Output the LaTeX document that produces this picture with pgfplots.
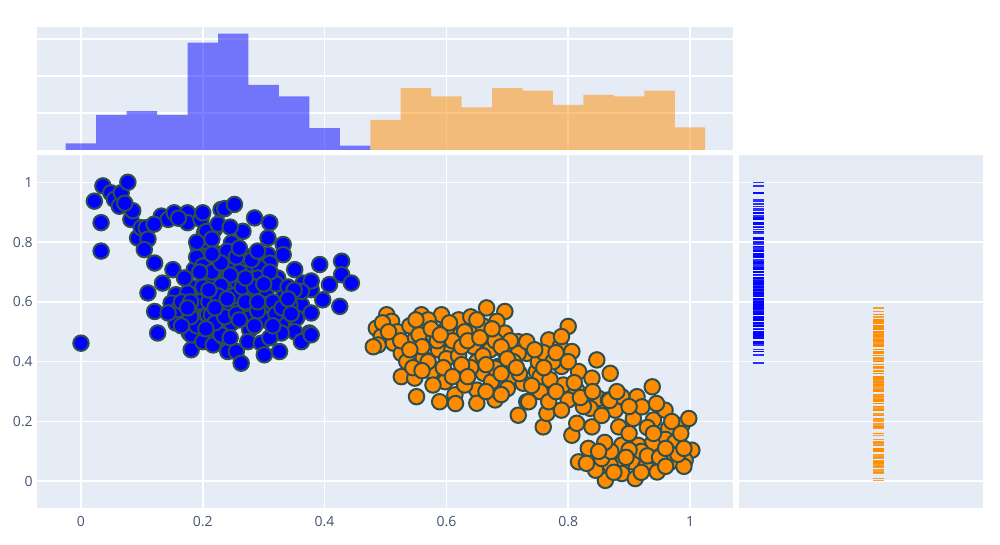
\documentclass[border=0pt]{standalone}
\usepackage{fontspec}
\setmainfont{Open Sans}
\usepackage{pgfplots}
\usepackage{pgfplotstable}
\pgfplotsset{compat=1.18}

\definecolor{bg}{HTML}{E5ECF6}
\definecolor{edge}{HTML}{2F4F4F}
\definecolor{dorange}{HTML}{FF8C00}
\definecolor{tickc}{HTML}{44546F}

% cluster 0 (blue)
\pgfplotstableread{
x y
0.000 0.462
0.022 0.937
0.036 0.988
0.033 0.865
0.033 0.770
0.049 0.965
0.055 0.943
0.066 0.965
0.063 0.920
0.077 1.000
0.082 0.876
0.093 0.814
0.099 0.848
0.107 0.848
0.110 0.810
0.104 0.775
0.121 0.730
0.132 0.887
0.143 0.876
0.153 0.898
0.175 0.898
0.175 0.865
0.197 0.876
0.200 0.898
0.203 0.831
0.219 0.842
0.206 0.836
0.192 0.786
0.211 0.786
0.206 0.753
0.230 0.909
0.236 0.912
0.252 0.926
0.247 0.797
0.266 0.836
0.285 0.881
0.310 0.865
0.307 0.814
0.332 0.792
0.332 0.758
0.307 0.758
0.310 0.730
0.269 0.753
0.247 0.736
0.151 0.708
0.134 0.663
0.110 0.630
0.121 0.568
0.126 0.496
0.156 0.624
0.148 0.596
0.156 0.529
0.159 0.574
0.178 0.496
0.181 0.440
0.186 0.708
0.184 0.647
0.186 0.590
0.203 0.484
0.197 0.540
0.227 0.714
0.269 0.714
0.293 0.714
0.351 0.708
0.392 0.725
0.428 0.736
0.428 0.691
0.444 0.663
0.408 0.658
0.397 0.607
0.425 0.585
0.211 0.674
0.241 0.680
0.290 0.680
0.323 0.680
0.365 0.663
0.378 0.641
0.378 0.670
0.175 0.630
0.219 0.630
0.263 0.630
0.301 0.630
0.334 0.624
0.362 0.590
0.343 0.590
0.301 0.592
0.258 0.596
0.236 0.590
0.208 0.557
0.271 0.574
0.247 0.529
0.301 0.540
0.329 0.524
0.354 0.546
0.378 0.563
0.351 0.500
0.375 0.496
0.277 0.507
0.225 0.500
0.181 0.490
0.143 0.563
0.200 0.467
0.217 0.456
0.233 0.484
0.241 0.434
0.255 0.434
0.263 0.395
0.274 0.467
0.296 0.462
0.301 0.423
0.326 0.434
0.329 0.496
0.362 0.467
0.378 0.490
0.252 0.669
0.236 0.640
0.238 0.585
0.230 0.490
0.214 0.557
0.220 0.530
0.203 0.618
0.236 0.550
0.304 0.641
0.362 0.635
0.190 0.750
0.200 0.720
0.215 0.700
0.225 0.760
0.240 0.770
0.255 0.750
0.280 0.740
0.290 0.770
0.260 0.700
0.245 0.690
0.230 0.655
0.195 0.600
0.210 0.600
0.225 0.620
0.250 0.620
0.265 0.650
0.280 0.610
0.285 0.650
0.315 0.600
0.320 0.660
0.275 0.545
0.255 0.560
0.190 0.520
0.205 0.510
0.310 0.700
0.340 0.650
0.350 0.640
0.190 0.800
0.215 0.810
0.180 0.550
0.165 0.600
0.245 0.480
0.310 0.480
0.170 0.680
0.180 0.600
0.200 0.650
0.220 0.580
0.240 0.610
0.260 0.540
0.270 0.600
0.290 0.570
0.300 0.660
0.320 0.560
0.330 0.580
0.340 0.610
0.270 0.680
0.260 0.780
0.230 0.730
0.215 0.760
0.195 0.700
0.175 0.580
0.165 0.520
0.210 0.640
0.285 0.520
0.315 0.520
0.345 0.560
0.290 0.600
0.225 0.860
0.245 0.850
0.160 0.880
0.120 0.860
0.085 0.905
0.072 0.930
}\bluedata

% cluster 1 (orange)
\pgfplotstableread{
x y
0.502 0.557
0.510 0.535
0.485 0.512
0.493 0.484
0.488 0.456
0.480 0.450
0.513 0.462
0.532 0.456
0.548 0.473
0.559 0.557
0.562 0.518
0.592 0.557
0.578 0.490
0.587 0.440
0.562 0.412
0.526 0.428
0.609 0.440
0.620 0.540
0.617 0.484
0.647 0.512
0.666 0.580
0.696 0.568
0.683 0.535
0.696 0.496
0.669 0.490
0.644 0.451
0.672 0.440
0.696 0.434
0.718 0.467
0.732 0.428
0.650 0.400
0.685 0.384
0.661 0.361
0.674 0.333
0.702 0.339
0.726 0.328
0.748 0.367
0.576 0.367
0.598 0.333
0.526 0.350
0.548 0.345
0.578 0.322
0.551 0.283
0.589 0.266
0.614 0.289
0.650 0.305
0.650 0.261
0.680 0.272
0.732 0.266
0.630 0.322
0.640 0.380
0.600 0.410
0.535 0.400
0.585 0.470
0.680 0.378
0.718 0.428
0.751 0.400
0.754 0.350
0.718 0.221
0.759 0.182
0.768 0.473
0.787 0.451
0.800 0.518
0.789 0.484
0.806 0.434
0.732 0.467
0.789 0.384
0.817 0.367
0.847 0.406
0.839 0.345
0.869 0.361
0.754 0.300
0.792 0.322
0.814 0.305
0.800 0.272
0.850 0.277
0.735 0.266
0.765 0.227
0.789 0.238
0.768 0.266
0.806 0.154
0.814 0.194
0.839 0.182
0.836 0.244
0.866 0.272
0.883 0.182
0.877 0.238
0.907 0.210
0.913 0.283
0.888 0.283
0.938 0.316
0.921 0.249
0.940 0.205
0.959 0.238
0.965 0.177
0.987 0.188
0.998 0.210
1.003 0.104
0.976 0.132
0.954 0.104
0.960 0.140
0.938 0.127
0.915 0.120
0.905 0.065
0.927 0.048
0.946 0.031
0.968 0.065
0.992 0.070
0.990 0.050
0.888 0.059
0.869 0.054
0.861 0.003
0.845 0.037
0.855 0.076
0.833 0.110
0.817 0.065
0.888 0.121
0.870 0.100
0.920 0.100
0.900 0.105
0.888 0.026
0.910 0.009
0.930 0.085
0.810 0.330
0.868 0.270
0.975 0.130
0.520 0.500
0.540 0.520
0.555 0.490
0.570 0.540
0.600 0.510
0.610 0.470
0.630 0.500
0.660 0.520
0.640 0.550
0.680 0.470
0.705 0.470
0.710 0.400
0.620 0.420
0.660 0.420
0.560 0.450
0.545 0.380
0.700 0.310
0.720 0.360
0.740 0.320
0.760 0.430
0.775 0.400
0.770 0.340
0.825 0.250
0.855 0.220
0.900 0.160
0.930 0.180
0.860 0.130
0.950 0.080
0.980 0.090
0.495 0.530
0.505 0.500
0.525 0.470
0.540 0.440
0.550 0.540
0.575 0.510
0.590 0.490
0.605 0.530
0.625 0.450
0.635 0.470
0.655 0.480
0.650 0.540
0.675 0.510
0.690 0.450
0.700 0.410
0.715 0.380
0.690 0.360
0.665 0.390
0.625 0.390
0.595 0.380
0.570 0.400
0.560 0.370
0.610 0.350
0.635 0.350
0.665 0.300
0.690 0.290
0.615 0.260
0.745 0.440
0.760 0.380
0.780 0.430
0.800 0.400
0.780 0.300
0.820 0.280
0.840 0.300
0.880 0.300
0.900 0.250
0.945 0.260
0.970 0.200
0.985 0.160
0.960 0.110
0.940 0.160
0.895 0.080
0.875 0.030
0.920 0.030
0.960 0.050
0.850 0.100
0.830 0.060
0.990 0.110
}\orangedata

\pgfplotsset{
  panel/.style={
    scale only axis,
    axis background/.style={fill=bg},
    axis line style={draw=none},
    major tick length=0pt,
    grid=major,
    major grid style={white, line width=1.2pt},
    tick label style={font=\fontsize{10.5}{12}\selectfont, text=tickc},
    /pgf/number format/assume math mode=true,
  },
}

\begin{document}
\begin{tikzpicture}
\path[use as bounding box] (0pt,0pt) rectangle (750pt,-408.75pt);

% marginal histogram (top)
\begin{axis}[panel,
  at={(27.75pt,-20.25pt)}, anchor=north west,
  width=522pt, height=92.25pt,
  xmin=-0.0722, xmax=1.0706, ymin=0, ymax=33.2,
  xtick={0,0.2,0.4,0.6,0.8,1}, ytick={10,20,30},
  xticklabels={}, yticklabels={},
]
\addplot[ybar interval, fill=blue, fill opacity=0.5, draw=none] coordinates {
  (-0.025,1.8) (0.025,9.5) (0.075,10.5) (0.125,9.5) (0.175,29.0)
  (0.225,31.4) (0.275,17.6) (0.325,14.5) (0.375,5.9) (0.425,1.2) (0.475,0)
};
\addplot[ybar interval, fill=dorange, fill opacity=0.5, draw=none] coordinates {
  (0.475,8.1) (0.525,16.7) (0.575,14.5) (0.625,11.5) (0.675,16.7)
  (0.725,16.0) (0.775,12.2) (0.825,14.9) (0.875,14.5) (0.925,16.0)
  (0.975,6.1) (1.025,0)
};
\end{axis}

% main scatter
\begin{axis}[panel,
  at={(27.75pt,-116.25pt)}, anchor=north west,
  width=522pt, height=264.75pt,
  xmin=-0.0722, xmax=1.0706, ymin=-0.0894, ymax=1.0914,
  xtick={0,0.2,0.4,0.6,0.8,1}, ytick={0,0.2,0.4,0.6,0.8,1},
  xticklabel style={inner sep=0pt, yshift=-6pt},
  yticklabel style={inner sep=0pt, xshift=-3pt},
]
\addplot[only marks, mark=*, mark size=5.8pt,
  mark options={fill=blue, draw=edge, line width=1.5pt}] table[x=x, y=y] {\bluedata};
\addplot[only marks, mark=*, mark size=5.8pt,
  mark options={fill=dorange, draw=edge, line width=1.5pt}] table[x=x, y=y] {\orangedata};
\end{axis}

% marginal rug (right)
\begin{axis}[panel,
  at={(553.9pt,-116.25pt)}, anchor=north west,
  width=183.4pt, height=264.75pt,
  xmin=0, xmax=1, ymin=-0.0894, ymax=1.0914,
  xtick=\empty, ytick={0,0.2,0.4,0.6,0.8,1}, yticklabels={},
]
\addplot[only marks, mark=-, mark size=4.1pt,
  mark options={draw=blue, line width=1.1pt, opacity=0.8}] table[x expr=0.08, y=y] {\bluedata};
\addplot[only marks, mark=-, mark size=4.1pt,
  mark options={draw=dorange, line width=1.1pt, opacity=0.8}] table[x expr=0.571, y=y] {\orangedata};
\end{axis}
\end{tikzpicture}
\end{document}
